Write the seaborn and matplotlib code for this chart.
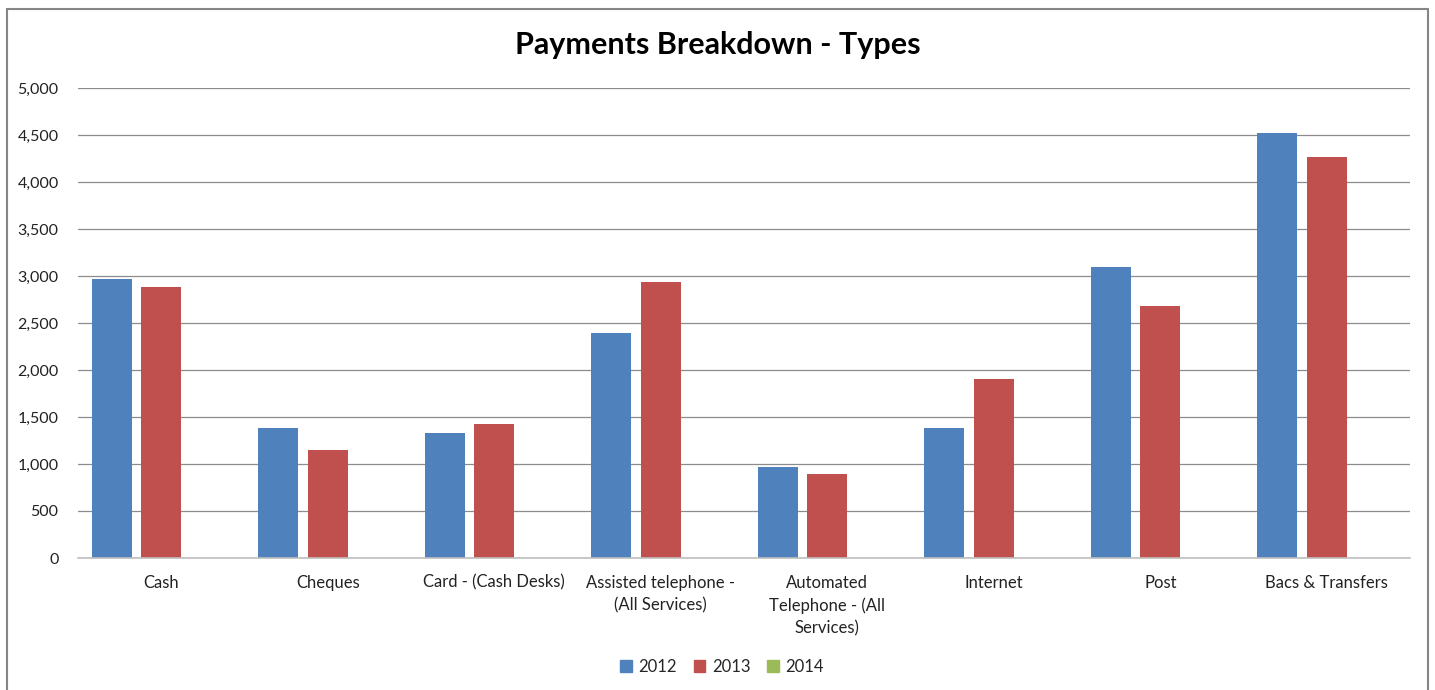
import matplotlib
matplotlib.use("Agg")
import matplotlib.pyplot as plt
import matplotlib.patches as mpatches
import seaborn as sns
import pandas as pd
import numpy as np

categories = ["Cash", "Cheques", "Card - (Cash Desks)", "Assisted telephone -\n(All Services)",
              "Automated\nTelephone - (All\nServices)", "Internet", "Post", "Bacs & Transfers"]
years = ["2012", "2013", "2014"]
values_2012 = [2970, 1380, 1326, 2397, 968, 1380, 3096, 4518]
values_2013 = [2885, 1146, 1429, 2933, 894, 1901, 2684, 4270]
values_2014 = [np.nan] * 8
colors = ["#4F81BD", "#C0504D", "#9BBB59"]
yticks = [0, 500, 1000, 1500, 2000, 2500, 3000, 3500, 4000, 4500, 5000]

rows = []
for yr, vals in zip(years, [values_2012, values_2013, values_2014]):
    for c, v in zip(categories, vals):
        rows.append({"Category": c, "Year": yr, "Value": v})
df = pd.DataFrame(rows)

sns.set_theme(style="white")
plt.rcParams['font.family'] = ['Lato', 'DejaVu Sans']

fig = plt.figure(figsize=(14.35, 6.9), dpi=100)
ax = fig.add_axes([78/1435, 1-558/690, (1410-78)/1435, (558-88)/690])

sns.barplot(data=df, x="Category", y="Value", hue="Year", hue_order=years,
            order=categories, palette=colors, width=0.89, gap=0.19, saturation=1,
            linewidth=0, ax=ax, legend=False, errorbar=None)

ax.set_ylim(0, 5000)
ax.set_xlim(-0.5, len(categories) - 0.5)
ax.set_yticks(yticks)
ax.set_yticklabels([f"{t:,}" for t in yticks], fontsize=11.5, color="#222222")
ax.set_xticks(range(len(categories)))
ax.set_xticklabels(categories, fontsize=12, color="#222222", linespacing=1.5)
ax.tick_params(axis="both", length=0)
ax.tick_params(axis="x", pad=12)
ax.tick_params(axis="y", pad=14)
ax.set_xlabel("")
ax.set_ylabel("")
ax.yaxis.grid(True, color="#8C8C8C", linewidth=0.9)
ax.set_axisbelow(True)
for s in ["left", "right", "top"]:
    ax.spines[s].set_visible(False)
ax.spines["bottom"].set_color("#BFBFBF")
ax.spines["bottom"].set_linewidth(1.2)

fig.text(718/1435, 1-45/690, "Payments Breakdown - Types", ha="center", va="center",
         fontsize=22, fontweight="bold", color="black")

handles = [mpatches.Patch(color=c, label=y) for c, y in zip(colors, years)]
fig.legend(handles=handles, loc="center", bbox_to_anchor=(722/1435, 1-667/690), ncol=3,
           frameon=False, fontsize=12, handlelength=0.7, handleheight=0.7,
           handletextpad=0.4, columnspacing=1.0)

border = mpatches.Rectangle((7/1435, -0.05), (1428-7)/1435, 1-9/690+0.05,
                            transform=fig.transFigure, fill=False,
                            edgecolor="#868686", linewidth=1.5)
fig.patches.append(border)

fig.savefig("out.png", dpi=100, facecolor="white")
